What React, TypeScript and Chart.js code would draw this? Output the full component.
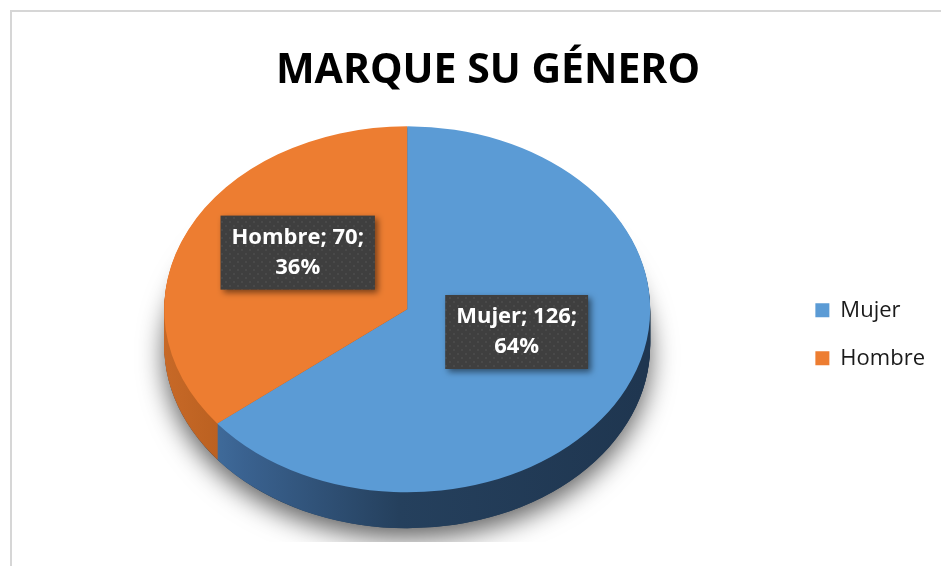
import React, { useEffect, useRef } from "react";
import { Chart, registerables } from "chart.js";

Chart.register(...registerables);

const TITLE = "MARQUE SU GÉNERO";
const categories = ["Mujer", "Hombre"];
const values = [126, 70];
const topColors = ["#5b9bd5", "#ed7d31"];
const sideStops: string[][] = [
  ["#4a7db0", "#3a6290", "#25405d", "#1f3650"],
  ["#c96a28", "#b55d1e", "#9a4f18", "#8a4615"],
];

const FONT = "'Open Sans', 'DejaVu Sans', sans-serif";
const TILT = 0.753;
const DEPTH = 36;
const LIFT = 25;
const SHIFT_X = -8;
const LABEL_LIFT = 17;

function applyView(ctx: CanvasRenderingContext2D, cx: number, cy: number, d: number) {
  ctx.translate(cx + SHIFT_X, cy - LIFT + d);
  ctx.scale(1, TILT);
  ctx.translate(-cx, -cy);
}

let patternCache: CanvasPattern | null = null;
function getPattern(ctx: CanvasRenderingContext2D) {
  if (patternCache) return patternCache;
  const c = document.createElement("canvas");
  c.width = 8;
  c.height = 8;
  const p = c.getContext("2d")!;
  p.fillStyle = "#3f3f3f";
  p.fillRect(0, 0, 8, 8);
  p.fillStyle = "#4c4c4c";
  p.beginPath();
  p.arc(2, 2, 1.1, 0, Math.PI * 2);
  p.arc(6, 6, 1.1, 0, Math.PI * 2);
  p.fill();
  patternCache = ctx.createPattern(c, "repeat");
  return patternCache;
}

const pie3d = {
  id: "pie3d",
  beforeDatasetsDraw(chart: any) {
    const ctx: CanvasRenderingContext2D = chart.ctx;
    const arcs = chart.getDatasetMeta(0).data;
    if (!arcs.length) return;
    const { x: cx, y: cy, outerRadius: r } = arcs[0];
    const area = chart.chartArea;

    ctx.save();
    ctx.beginPath();
    ctx.rect(0, 0, chart.width, area.bottom);
    ctx.clip();

    // soft shadow under the pie
    ctx.save();
    ctx.shadowColor = "rgba(0,0,0,0.62)";
    ctx.shadowBlur = 26;
    ctx.shadowOffsetY = 10;
    applyView(ctx, cx, cy, DEPTH);
    ctx.beginPath();
    ctx.arc(cx, cy, r, 0, Math.PI * 2);
    ctx.fillStyle = "#223a54";
    ctx.fill();
    ctx.restore();

    // side walls
    const grads = sideStops.map((stops) => {
      const g = ctx.createLinearGradient(cx + SHIFT_X - r, 0, cx + SHIFT_X + r, 0);
      g.addColorStop(0, stops[0]);
      g.addColorStop(0.18, stops[1]);
      g.addColorStop(0.5, stops[2]);
      g.addColorStop(1, stops[3]);
      return g;
    });
    for (let d = DEPTH; d >= 1; d--) {
      ctx.save();
      applyView(ctx, cx, cy, d);
      arcs.forEach((arc: any, i: number) => {
        ctx.beginPath();
        ctx.moveTo(arc.x, arc.y);
        ctx.arc(arc.x, arc.y, arc.outerRadius, arc.startAngle, arc.endAngle);
        ctx.closePath();
        ctx.fillStyle = grads[i % grads.length];
        ctx.fill();
      });
      ctx.restore();
    }
    ctx.restore();

    // top face: Chart.js draws the arcs with this view applied
    ctx.save();
    applyView(ctx, cx, cy, 0);
  },
  afterDatasetsDraw(chart: any) {
    const ctx: CanvasRenderingContext2D = chart.ctx;
    const arcs = chart.getDatasetMeta(0).data;
    if (!arcs.length) return;
    ctx.restore();
    const { y: cy } = arcs[0];
    const data = chart.data.datasets[0].data as number[];
    const total = data.reduce((a, b) => a + b, 0);
    ctx.save();
    ctx.font = `bold 22px ${FONT}`;
    arcs.forEach((arc: any, i: number) => {
      const p = arc.getCenterPoint();
      const sx = p.x + SHIFT_X;
      const sy = cy - LIFT + (p.y - cy) * TILT - LABEL_LIFT;
      const l1 = `${chart.data.labels[i]}; ${data[i]};`;
      const l2 = `${Math.round((data[i] / total) * 100)}%`;
      const w = Math.max(ctx.measureText(l1).width, ctx.measureText(l2).width) + 22;
      const h = 74;
      ctx.save();
      ctx.shadowColor = "rgba(0,0,0,0.5)";
      ctx.shadowBlur = 6;
      ctx.shadowOffsetX = 3;
      ctx.shadowOffsetY = 3;
      ctx.fillStyle = getPattern(ctx) || "#3f3f3f";
      ctx.fillRect(sx - w / 2, sy - h / 2, w, h);
      ctx.restore();
      ctx.fillStyle = "#ffffff";
      ctx.textAlign = "center";
      ctx.textBaseline = "middle";
      ctx.fillText(l1, sx, sy - 15);
      ctx.fillText(l2, sx, sy + 15);
    });
    ctx.restore();
  },
};

export default function App() {
  const ref = useRef<HTMLCanvasElement>(null);
  useEffect(() => {
    if (!ref.current) return;
    const chart = new Chart(ref.current, {
      type: "pie",
      data: {
        labels: categories,
        datasets: [
          {
            data: values,
            backgroundColor: topColors,
            borderWidth: 0,
            radius: 243,
            clip: false,
          } as any,
        ],
      },
      options: {
        responsive: false,
        maintainAspectRatio: false,
        animation: false,
        devicePixelRatio: 1,
        layout: { padding: { left: 29, right: 6, top: 0, bottom: 24 } },
        plugins: {
          title: {
            display: true,
            text: TITLE,
            color: "#000000",
            font: { family: FONT, size: 41, weight: "bold", lineHeight: 1.2 },
            padding: { top: 35, bottom: 30.4 },
          },
          legend: {
            position: "right",
            fullSize: false,
            labels: {
              boxWidth: 14,
              boxHeight: 14,
              padding: 26,
              color: "#1a1a1a",
              font: { family: FONT, size: 22 },
            },
          },
          tooltip: { enabled: false },
        },
      },
      plugins: [pie3d],
    });
    return () => chart.destroy();
  }, []);
  return (
    <div
      style={{
        position: "absolute",
        left: 10,
        top: 10,
        width: 931,
        height: 556,
        borderTop: "2px solid #d6d6d6",
        borderLeft: "2px solid #d6d6d6",
        boxSizing: "border-box",
        overflow: "hidden",
        background: "#ffffff",
      }}
    >
      <canvas ref={ref} width={929} height={554} style={{ display: "block" }} />
    </div>
  );
}
